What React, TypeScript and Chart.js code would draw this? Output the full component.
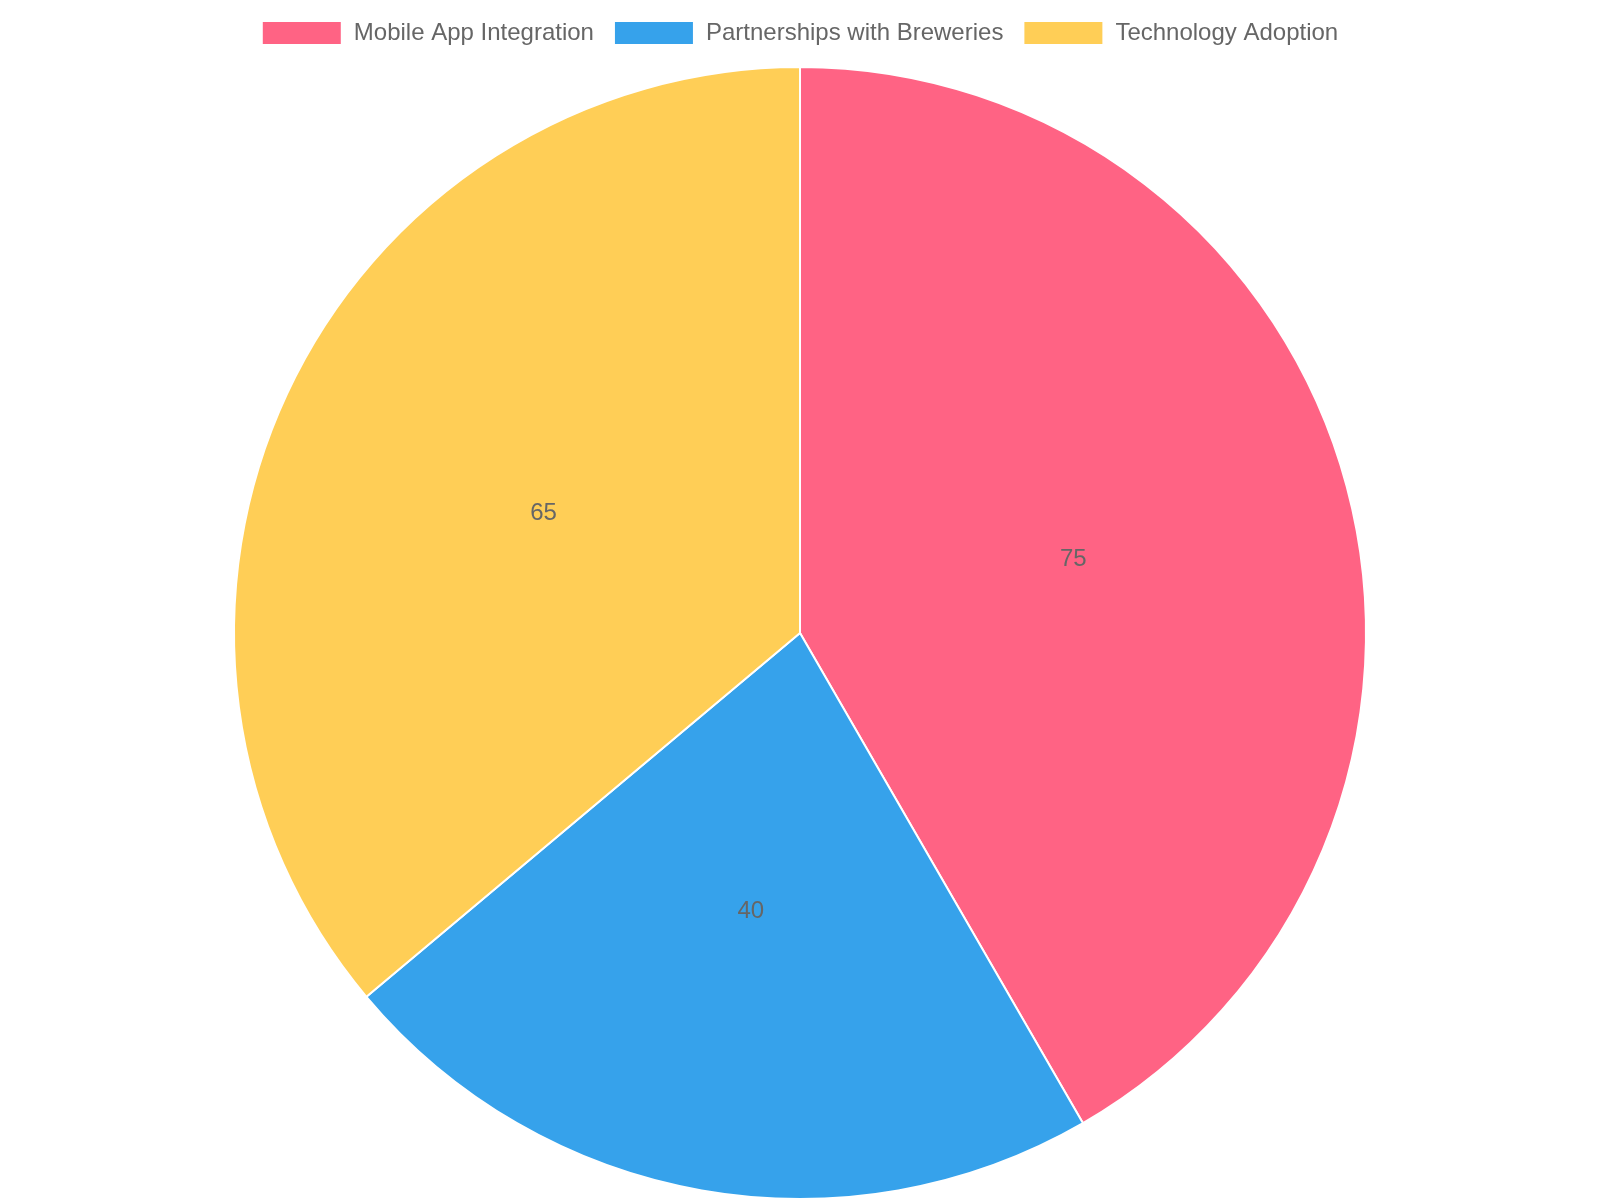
import React, { useEffect, useRef } from "react";
import { Chart, registerables } from "chart.js";

Chart.register(...registerables);

const categories = ["Mobile App Integration", "Partnerships with Breweries", "Technology Adoption"];
const values = [75, 40, 65];
const colors = ["#FF6384", "#36A2EB", "#FFCE56"];

const FONT = "'Liberation Sans', Arial, Helvetica, sans-serif";

const labelPlugin = {
  id: "sliceLabels",
  afterDatasetsDraw(chart: any) {
    const ctx = chart.ctx;
    const meta = chart.getDatasetMeta(0);
    ctx.save();
    ctx.font = `24px ${FONT}`;
    ctx.fillStyle = "#666";
    ctx.textAlign = "center";
    ctx.textBaseline = "middle";
    meta.data.forEach((arc: any, i: number) => {
      const p = arc.getCenterPoint();
      ctx.fillText(String(chart.data.datasets[0].data[i]), p.x, p.y);
    });
    ctx.restore();
  },
};

const legendMargin = {
  id: "legendMargin",
  beforeInit(chart: any) {
    const legend = chart.legend;
    if (!legend) return;
    const orig = legend.fit;
    legend.fit = function () {
      orig.call(this);
      this.height += 11;
    };
  },
};

export default function App() {
  const ref = useRef<HTMLCanvasElement | null>(null);
  useEffect(() => {
    if (!ref.current) return;
    const chart = new Chart(ref.current, {
      type: "pie",
      data: {
        labels: categories,
        datasets: [
          {
            data: values,
            backgroundColor: colors,
            borderColor: "#fff",
            borderWidth: 2,
          },
        ],
      },
      options: {
        animation: false,
        responsive: true,
        maintainAspectRatio: false,
        devicePixelRatio: 1,
        layout: { padding: { top: 1 } },
        plugins: {
          legend: {
            position: "top",
            labels: {
              color: "#666",
              font: { size: 24, family: FONT },
              boxWidth: 80,
              boxHeight: 24,
              padding: 20,
            },
          },
          tooltip: { enabled: false },
        },
      },
      plugins: [legendMargin, labelPlugin],
    });
    return () => chart.destroy();
  }, []);
  return (
    <div style={{ position: "fixed", left: 0, top: 0, width: 1600, height: 1200, background: "#fff" }}>
      <canvas ref={ref} />
    </div>
  );
}
